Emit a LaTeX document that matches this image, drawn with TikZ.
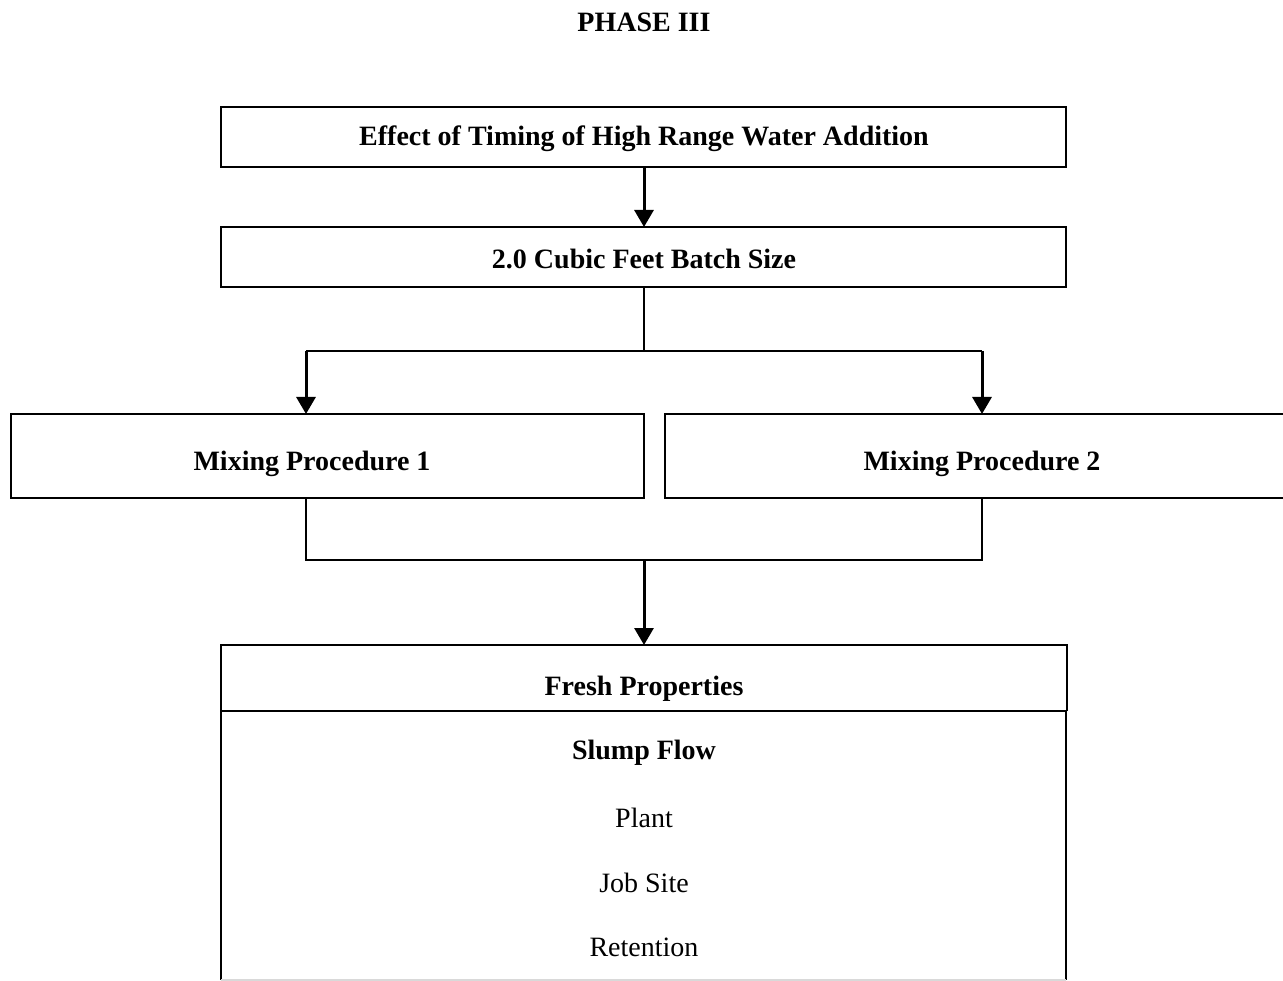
\documentclass[tikz,border=0pt]{standalone}
\usepackage{fontspec}
\setmainfont{Liberation Serif}
\usetikzlibrary{arrows.meta}
\begin{document}
\begin{tikzpicture}[x=1pt,y=-1pt,
  box/.style={draw=black,line width=1.6pt,inner sep=0pt},
  lbl/.style={font=\fontsize{28}{32}\selectfont\bfseries},
  plain/.style={font=\fontsize{28}{32}\selectfont},
  conn/.style={line width=1.3pt},
  arr/.style={line width=3pt,-{Triangle[width=19pt,length=17pt]},shorten >=0pt}]
\useasboundingbox (0,0) rectangle (1283,981);
\clip (0,0) rectangle (1283,981);
% title
\node[lbl] (title) at (644,22) {PHASE III};
% boxes
\draw[box] (221,107) rectangle (1066,167);
\node[lbl] (b1) at (644,139) {Effect of Timing of High Range Water Addition};
\coordinate (b1s) at (644,167);
\draw[box] (221,227) rectangle (1066,287);
\node[lbl] (b2) at (644,259) {2.0 Cubic Feet Batch Size};
\coordinate (b2n) at (644,227);
\coordinate (b2s) at (644,287);
\draw[box] (11,414) rectangle (644,498);
\node[lbl] (m1) at (312,464) {Mixing Procedure 1};
\draw[box] (665,414) rectangle (1300,498);
\node[lbl] (m2) at (982,464) {Mixing Procedure 2};
\coordinate (m1n) at (306,414);
\coordinate (m2n) at (982,414);
\coordinate (m1s) at (306,498);
\coordinate (m2s) at (982,498);
% bottom box
\draw[box] (221,980) -- (221,645) -- (1067,645) -- (1067,711);
\draw[line width=1.2pt] (1066,711) -- (1066,980);
\draw[box] (221,711) -- (1067,711);
\draw[black!15,line width=1.5pt] (221,980) -- (1066,980);
\coordinate (fn) at (644,645);
\node[lbl] (fp) at (644,689) {Fresh Properties};
\node[lbl] (sf) at (644,753) {Slump Flow};
\node[plain] (pl) at (644,818) {Plant};
\node[plain] (js) at (644,883) {Job Site};
\node[plain] (rt) at (644,947) {Retention};
% connectors
\draw[arr] (b1s) -- (b2n);
\coordinate (j1) at (644,351);
\draw[conn] (b2s) -- (j1);
\draw[conn] (306,351) -- (982,351);
\draw[arr] (306,351) -- (m1n);
\draw[arr] (982,351) -- (m2n);
\coordinate (j2) at (644,560);
\draw[conn] (m1s) -- (306,560) -- (982,560) -- (m2s);
\draw[arr] (j2) -- (fn);
\end{tikzpicture}
\end{document}
